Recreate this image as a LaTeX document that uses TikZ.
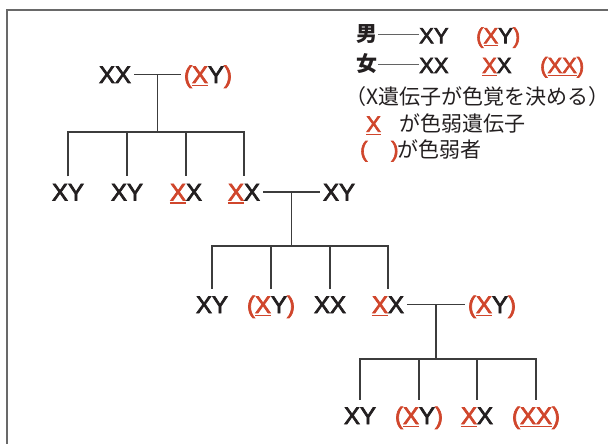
\documentclass[tikz,border=0pt]{standalone}
\usepackage{fontspec}
\usetikzlibrary{calc}
\newfontfamily\latin[FakeBold=3]{Liberation Sans}
\newfontfamily\jp{Noto Sans CJK JP}
\definecolor{cred}{RGB}{208,70,44}
\definecolor{cblk}{RGB}{35,31,32}
\definecolor{cline}{RGB}{60,60,60}
\definecolor{cframe}{RGB}{105,105,105}
\newcommand\Rd[1]{\textcolor{cred}{#1}}
\newcommand\Ul[1]{\textcolor{cred}{\setbox0\hbox{#1}\rlap{\rule[-3pt]{\wd0}{1.1pt}}\box0}}
\tikzset{
  gt/.style={inner sep=0pt, outer xsep=3pt, text height=17pt, text depth=0pt,
    font=\latin\fontsize{24}{24}\selectfont, text=cblk},
  lgl/.style={inner sep=0pt, anchor=base west, font=\latin\fontsize{22}{22}\selectfont, text=cblk},
  lgj/.style={inner sep=0pt, anchor=base west, font=\jp\fontsize{21}{21}\selectfont, text=cblk},
  lgb/.style={inner sep=0pt, outer xsep=1pt, anchor=base west, font=\jp\bfseries\fontsize{21}{21}\selectfont, text=cblk},
  ln/.style={draw=cline, line width=1.3pt},
  dash line/.style={draw=cline!80, line width=1pt},
  frame/.style={draw=cframe, line width=1.6pt}
}
\begin{document}
\begin{tikzpicture}[x=1pt,y=-1pt]
\useasboundingbox (0,0) rectangle (608,444);
\fill[white] (0,0) rectangle (608,444);
\draw[frame] (7,460) -- (7,10) -- (620,10);
% generation 1
\node[gt] (a1) at (115,74.5) {XX};
\node[gt] (a2) at (208,74.5) {\Rd{(}\Ul{X}Y\Rd{)}};
% generation 2
\node[gt] (b1) at (68,192) {XY};
\node[gt] (b2) at (127,192) {XY};
\node[gt] (b3) at (186,192) {\Ul{X}X};
\node[gt] (b4) at (244,192) {\Ul{X}X};
\node[gt] (b5) at (339,192) {XY};
% generation 3
\node[gt] (c1) at (212,304.5) {XY};
\node[gt] (c2) at (271,304.5) {\Rd{(}\Ul{X}Y\Rd{)}};
\node[gt] (c3) at (330,304.5) {XX};
\node[gt] (c4) at (388,304.5) {\Ul{X}X};
\node[gt] (c5) at (492,304.5) {\Rd{(}\Ul{X}Y\Rd{)}};
% generation 4
\node[gt] (d1) at (360,415.5) {XY};
\node[gt] (d2) at (419,415.5) {\Rd{(}\Ul{X}Y\Rd{)}};
\node[gt] (d3) at (477,415.5) {\Ul{X}X};
\node[gt] (d4) at (536,415.5) {\Rd{(}\Ul{XX}\Rd{)}};
% bar levels
\coordinate (bar1) at (0,132);
\coordinate (bar2) at (0,246);
\coordinate (bar3) at (0,359);
% family 1
\draw[ln] (a1.east) -- (a2.west);
\coordinate (m1) at ($(a1.east)!0.5!(a2.west)$);
\draw[ln] (m1) -- (m1 |- bar1);
\draw[ln] ([yshift=7pt]b1.north) -- (b1 |- bar1) -- (b4 |- bar1) -- ([yshift=7pt]b4.north);
\draw[ln] (b2 |- bar1) -- ([yshift=7pt]b2.north);
\draw[ln] (b3 |- bar1) -- ([yshift=7pt]b3.north);
% family 2
\draw[ln] (b4.east) -- (b5.west);
\coordinate (m2) at ($(b4.east)!0.5!(b5.west)$);
\draw[ln] (m2) -- (m2 |- bar2);
\draw[ln] ([yshift=7pt]c1.north) -- (c1 |- bar2) -- (c4 |- bar2) -- ([yshift=7pt]c4.north);
\draw[ln] (c2 |- bar2) -- ([yshift=7pt]c2.north);
\draw[ln] (c3 |- bar2) -- ([yshift=7pt]c3.north);
% family 3
\draw[ln] (c4.east) -- (c5.west);
\coordinate (m3) at ($(c4.east)!0.5!(c5.west)$);
\draw[ln] (m3) -- (m3 |- bar3);
\draw[ln] ([yshift=7pt]d1.north) -- (d1 |- bar3) -- (d4 |- bar3) -- ([yshift=7pt]d4.north);
\draw[ln] (d2 |- bar3) -- ([yshift=7pt]d2.north);
\draw[ln] (d3 |- bar3) -- ([yshift=7pt]d3.north);
% legend
\node[lgb] (men) at (355,42) {男};
\node[lgl] (mxy) at (419,43.3) {XY};
\node[lgl] (mcb) at (476,43.3) {\Rd{(}\Ul{X}Y\Rd{)}};
\draw[dash line] (men.east |- 0,35) -- (mxy.west |- 0,35);
\node[lgb] (wom) at (355,72) {女};
\node[lgl] (wxx) at (419,73) {XX};
\node[lgl] (wcr) at (482,73) {\Ul{X}X};
\node[lgl] (wcb) at (540,73) {\Rd{(}\Ul{XX}\Rd{)}};
\draw[dash line] (wom.east |- 0,65) -- (wxx.west |- 0,65);
\node[lgj] (l3) at (345,104) {（X遺伝子が色覚を決める）};
\node[lgl] (l4x) at (366,131.7) {\Ul{X}};
\node[lgj] (l4) at (399,131) {が色弱遺伝子};
\node[lgl] (l5a) at (360,157) {\Rd{(}};
\node[lgl] (l5b) at (391,157) {\Rd{)}};
\node[lgj] (l5) at (397,157) {が色弱者};
\end{tikzpicture}
\end{document}
